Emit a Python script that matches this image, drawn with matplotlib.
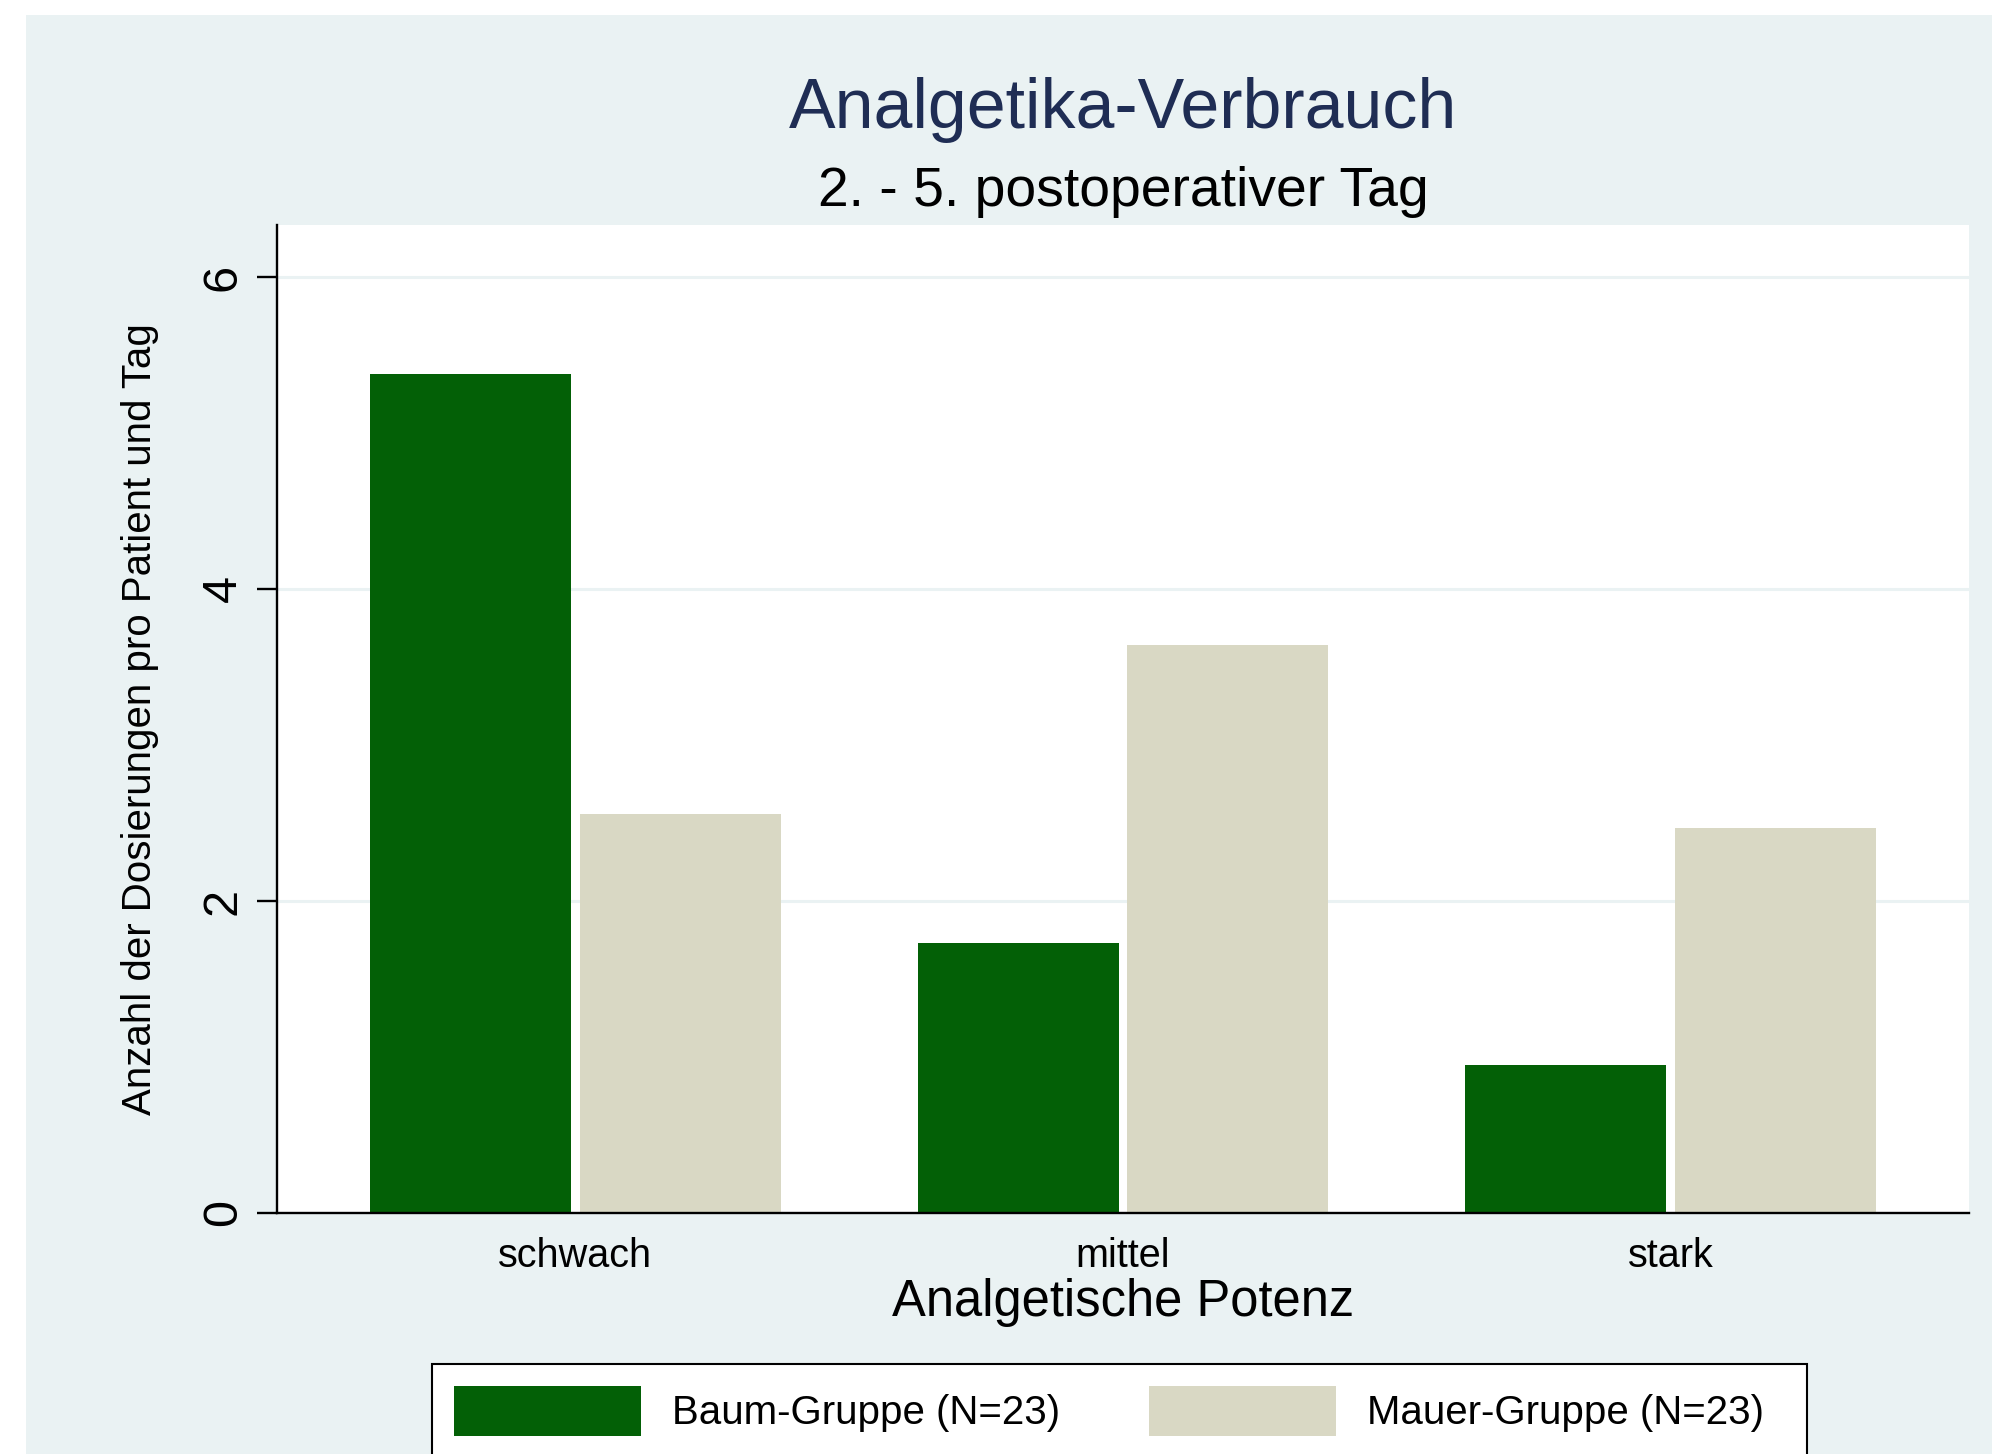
import matplotlib.pyplot as plt
import numpy as np
from matplotlib.patches import Rectangle

plt.rcParams['font.family'] = ['Liberation Sans', 'DejaVu Sans']

categories = ["schwach", "mittel", "stark"]
baum = [5.38, 1.73, 0.95]
mauer = [2.56, 3.64, 2.47]
labels = ["Baum-Gruppe (N=23)", "Mauer-Gruppe (N=23)"]
yticks = [0, 2, 4, 6]

W, H = 1992, 1454
bg = '#EAF2F3'
green = '#036006'
beige = '#D9D8C4'

fig = plt.figure(figsize=(W / 100, H / 100), dpi=100)
fig.patch.set_facecolor('white')
fig.patches.append(Rectangle((26 / W, 0), 1 - 26 / W, 1 - 15 / H, transform=fig.transFigure,
                             facecolor=bg, edgecolor='none', zorder=-2))
# legend frame, runs off the bottom like in the original
fig.patches.append(Rectangle((432 / W, -0.05), (1807 - 432) / W, (H - 1364) / H + 0.05,
                             transform=fig.transFigure, facecolor='white', edgecolor='black',
                             linewidth=1.5, zorder=-1))

ax = fig.add_axes([277 / W, 1 - 1213 / H, (1969 - 277) / W, (1213 - 225) / H])
ax.set_facecolor('white')

x = np.arange(len(categories))
width = 0.3668
off = 0.1916
b1 = ax.bar(x - off, baum, width, color=green, linewidth=0, zorder=3)
b2 = ax.bar(x + off, mauer, width, color=beige, linewidth=0, zorder=3)

ax.set_xlim(-0.544, 2.544)
ax.set_ylim(0, 6.333)
ax.set_yticks(yticks)
ax.set_yticklabels([str(t) for t in yticks], rotation=90, va='center', fontsize=35)
ax.set_xticks(x)
ax.set_xticklabels(categories, fontsize=28.5)
ax.tick_params(axis='x', length=0, pad=17)
ax.tick_params(axis='y', length=14.4, width=1.7, pad=8)
ax.grid(axis='y', color=bg, linewidth=2.2, zorder=0)

for s in ['top', 'right']:
    ax.spines[s].set_visible(False)
for s in ['left', 'bottom']:
    ax.spines[s].set_linewidth(1.7)
    ax.spines[s].set_zorder(4)

ax.set_xlabel("Analgetische Potenz", fontsize=36.5)
ax.xaxis.label.set_va('baseline')
ax.xaxis.set_label_coords(0.5, (1213 - 1316) / (1213 - 225))
ax.set_ylabel("Anzahl der Dosierungen pro Patient und Tag", fontsize=29)
ax.yaxis.label.set_va('baseline')
ax.yaxis.set_label_coords((151 - 277) / (1969 - 277), 0.5)

cx = 1123 / W
fig.text(cx, 1 - 128 / H, "Analgetika-Verbrauch", fontsize=50.3, color='#1F2D54',
         ha='center', va='baseline')
fig.text(cx, 1 - 206 / H, "2. - 5. postoperativer Tag", fontsize=39.8, color='black',
         ha='center', va='baseline')

fig.legend([b1, b2], labels, loc='upper left', bbox_to_anchor=(454 / W, 1 - 1386 / H),
           bbox_transform=fig.transFigure, ncol=2, frameon=False, fontsize=29,
           borderpad=0, borderaxespad=0, handlelength=187 / 40.3, handleheight=1.53,
           handletextpad=31 / 40.3, columnspacing=89 / 40.3)

fig.savefig('out.png', dpi=100, facecolor=fig.get_facecolor())
